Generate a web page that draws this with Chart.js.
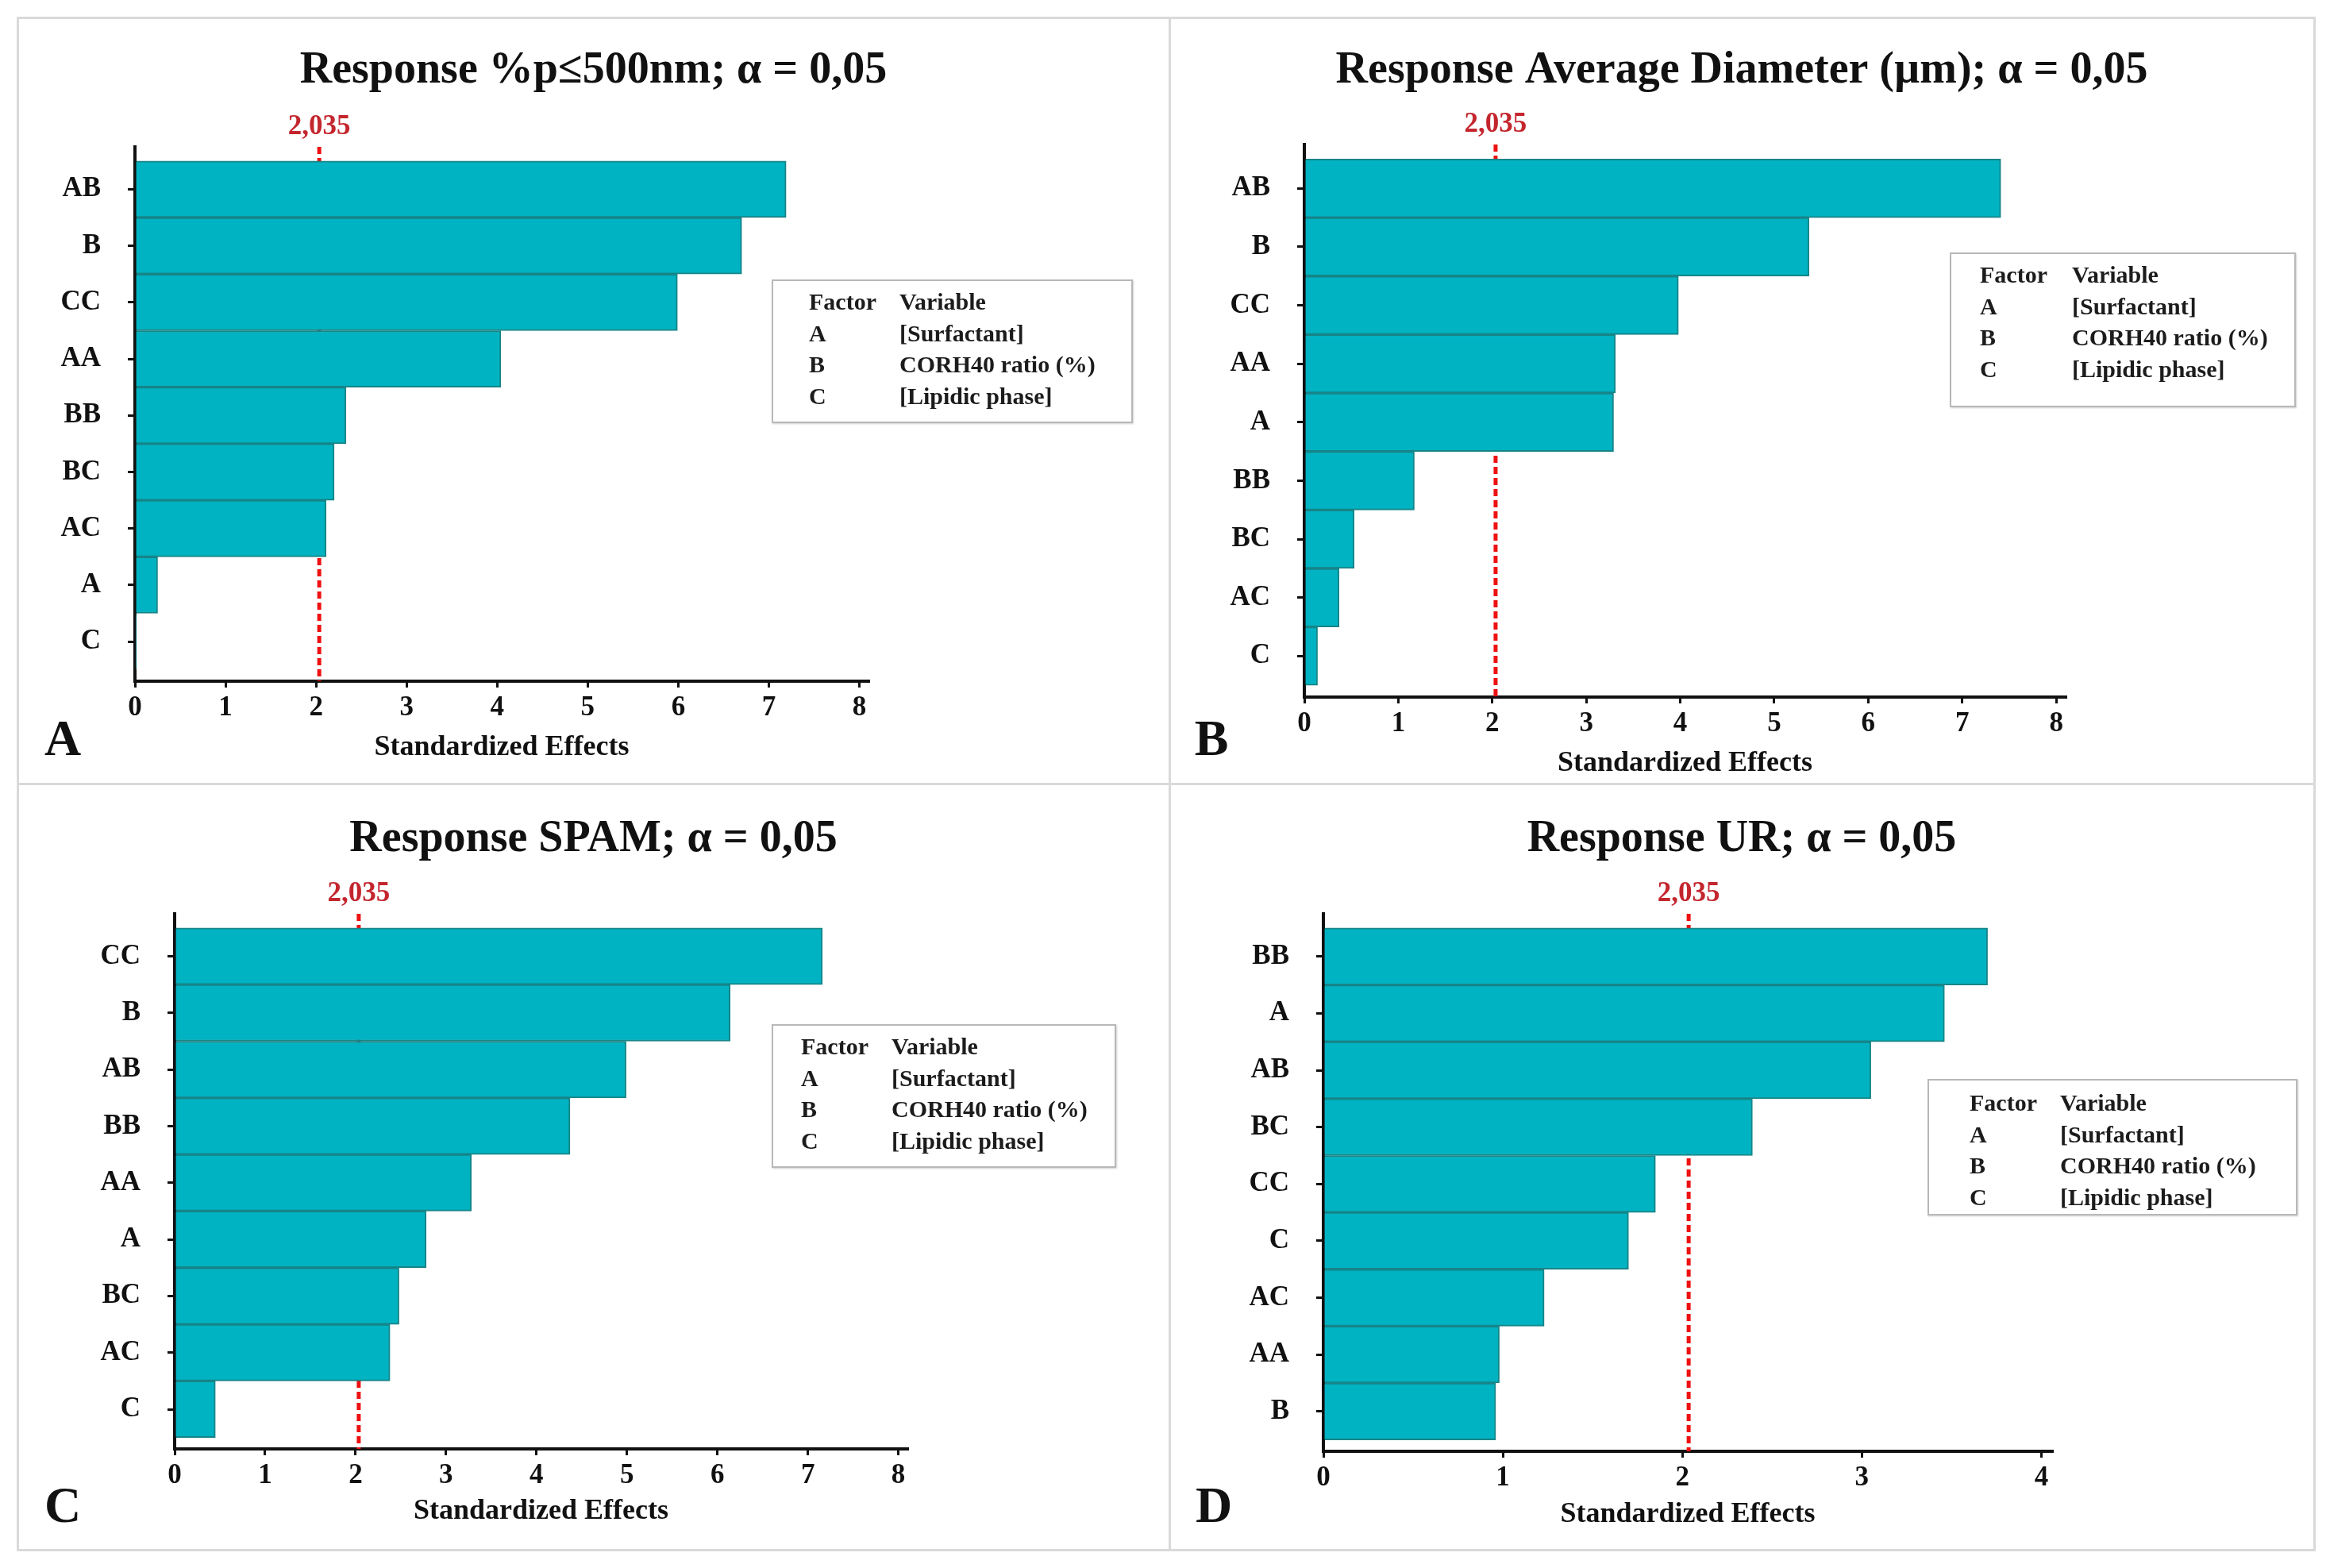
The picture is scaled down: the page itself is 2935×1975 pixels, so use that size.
<!DOCTYPE html>
<html>
<head>
<meta charset="utf-8">
<script src="https://cdn.jsdelivr.net/npm/chart.js@4.4.1/dist/chart.umd.min.js"></script>
<style>
html, body { margin: 0; padding: 0; background: #fff; }
body { width: 2935px; height: 1975px; position: relative; overflow: hidden; font-family: 'Liberation Serif', serif; }
.line { position: absolute; background: #d9d9d9; }
canvas { position: absolute; }
.legend { position: absolute; border: 2px solid #b8b8b8; background: #fff; box-sizing: border-box; font-weight: bold; font-size: 30px; color: #1c1c1c; box-shadow: 1px 1px 2px #d0d0d0; }
.legend span { position: absolute; white-space: nowrap; line-height: 40px; height: 40px; }
.letter { position: absolute; font-weight: bold; font-size: 64px; line-height: 64px; color: #111; transform: translate(-50%, -50%); }
</style>
</head>
<body>
<div class="line" style="left:21px;top:21px;width:2896px;height:3px"></div>
<div class="line" style="left:21px;top:1951px;width:2896px;height:3px"></div>
<div class="line" style="left:21px;top:21px;width:3px;height:1933px"></div>
<div class="line" style="left:2914px;top:21px;width:3px;height:1933px"></div>
<div class="line" style="left:1472px;top:21px;width:3px;height:1933px"></div>
<div class="line" style="left:21px;top:986px;width:2896px;height:3px"></div>
<script>
// valori (Pareto degli effetti standardizzati)
const labelsA = ['AB', 'B', 'CC', 'AA', 'BB', 'BC', 'AC', 'A', 'C'];
const valuesA = [7.19, 6.70, 5.99, 4.04, 2.33, 2.20, 2.11, 0.25, 0.01];
const labelsB = ['AB', 'B', 'CC', 'AA', 'A', 'BB', 'BC', 'AC', 'C'];
const valuesB = [7.41, 5.37, 3.98, 3.31, 3.29, 1.17, 0.53, 0.37, 0.14];
const labelsC = ['CC', 'B', 'AB', 'BB', 'AA', 'A', 'BC', 'AC', 'C'];
const valuesC = [7.16, 6.14, 4.99, 4.37, 3.28, 2.78, 2.48, 2.38, 0.45];
const labelsD = ['BB', 'A', 'AB', 'BC', 'CC', 'C', 'AC', 'AA', 'B'];
const valuesD = [3.70, 3.46, 3.05, 2.39, 1.85, 1.70, 1.23, 0.98, 0.96];

const ticks8 = [0, 1, 2, 3, 4, 5, 6, 7, 8];
const ticks4 = [0, 1, 2, 3, 4];

const titles = [
    'Response %p\u2264500nm; \u03b1 = 0,05',
    'Response Average Diameter (\u00b5m); \u03b1 = 0,05',
    'Response SPAM; \u03b1 = 0,05',
    'Response UR; \u03b1 = 0,05'
];
const letters = ['A', 'B', 'C', 'D'];
const xTitle = 'Standardized Effects';
const threshold = 2.035;
const thresholdLabel = '2,035';
const legendFactors = ['Factor', 'A', 'B', 'C'];
const legendVariables = ['Variable', '[Surfactant]', 'CORH40 ratio (%)', '[Lipidic phase]'];

const FONT = 'Liberation Serif';
const BAR = '#00b3c2';
const BAR_EDGE = '#168588';

// geometria dei pannelli (px assoluti / relativi alla cella)
const panels = [
    { labels: labelsA, values: valuesA, ticks: ticks8, xMax: 8.1, cell: [22, 22, 1451, 965], left: 148, top: 163, bottom: 836, padRight: 379, titleY: 68, axisTitleY: 920, letterPos: [79, 930], legend: [972, 352, 455, 181, 45, 159, 26] },
    { labels: labelsB, values: valuesB, ticks: ticks8, xMax: 8.1, cell: [1473, 22, 1442, 965], left: 170, top: 160, bottom: 856, padRight: 313, titleY: 68, axisTitleY: 940, letterPos: [1526, 930], legend: [2456, 318, 436, 195, 36, 152, 26] },
    { labels: labelsC, values: valuesC, ticks: ticks8, xMax: 8.1, cell: [22, 987, 1451, 966], left: 198, top: 164, bottom: 838, padRight: 330, titleY: 71, axisTitleY: 917, letterPos: [79, 1896], legend: [972, 1290, 434, 181, 35, 149, 26] },
    { labels: labelsD, values: valuesD, ticks: ticks4, xMax: 4.06, cell: [1473, 987, 1442, 966], left: 194, top: 164, bottom: 841, padRight: 330, titleY: 71, axisTitleY: 921, letterPos: [1529, 1896], legend: [2428, 1359, 466, 172, 51, 165, 28] }
];

const thresholdPlugin = {
    id: 'threshold',
    beforeDatasetsDraw(chart) {
        const { ctx, chartArea, scales } = chart;
        const px = scales.x.getPixelForValue(threshold);
        ctx.save();
        ctx.strokeStyle = '#ee1111';
        ctx.lineWidth = 5;
        ctx.setLineDash([9, 5]);
        ctx.beginPath();
        ctx.moveTo(px, chartArea.top);
        ctx.lineTo(px, chartArea.bottom);
        ctx.stroke();
        ctx.setLineDash([]);
        ctx.fillStyle = '#c4262e';
        ctx.font = 'bold 35px "' + FONT + '"';
        ctx.textAlign = 'center';
        ctx.textBaseline = 'middle';
        ctx.fillText(thresholdLabel, px, chartArea.top - 25);
        ctx.restore();
    }
};

function addLegend(p) {
    const [x, y, w, h, c1, c2, r0] = p.legend;
    const box = document.createElement('div');
    box.className = 'legend';
    Object.assign(box.style, { left: x + 'px', top: y + 'px', width: w + 'px', height: h + 'px' });
    legendFactors.forEach((f, i) => {
        const cy = r0 + i * 39.5 - 20;
        const a = document.createElement('span');
        a.textContent = f;
        Object.assign(a.style, { left: c1 + 'px', top: cy + 'px' });
        const b = document.createElement('span');
        b.textContent = legendVariables[i];
        Object.assign(b.style, { left: c2 + 'px', top: cy + 'px' });
        box.appendChild(a);
        box.appendChild(b);
    });
    document.body.appendChild(box);
}

function addLetter(p, i) {
    const d = document.createElement('div');
    d.className = 'letter';
    d.textContent = letters[i];
    d.style.left = p.letterPos[0] + 'px';
    d.style.top = p.letterPos[1] + 'px';
    document.body.appendChild(d);
}

function drawPanel(p, i) {
    const [cx, cy, W, H] = p.cell;
    const canvas = document.createElement('canvas');
    canvas.width = W;
    canvas.height = H;
    canvas.style.left = cx + 'px';
    canvas.style.top = cy + 'px';
    document.body.appendChild(canvas);

    const titleSize = 56;
    const titleTop = p.titleY - titleSize * 0.6;
    const titleBottom = p.top - titleSize * 1.2 - titleTop;
    const axisTitleSize = 36;
    const axisTitlePad = H - p.axisTitleY - axisTitleSize * 0.6;

    new Chart(canvas, {
        type: 'bar',
        data: {
            datasets: [{
                data: p.values.map((v, k) => ({ x: v, y: k })),
                backgroundColor: BAR,
                borderColor: BAR_EDGE,
                borderWidth: 2,
                barPercentage: 1,
                categoryPercentage: 1
            }]
        },
        options: {
            indexAxis: 'y',
            responsive: false,
            animation: false,
            devicePixelRatio: 1,
            layout: { padding: 0 },
            plugins: {
                legend: { display: false },
                tooltip: { enabled: false },
                title: {
                    display: true,
                    text: titles[i],
                    color: '#111',
                    font: { family: FONT, size: titleSize, weight: 'bold' },
                    padding: { top: titleTop, bottom: titleBottom }
                }
            },
            scales: {
                y: {
                    type: 'linear',
                    reverse: true,
                    offset: false,
                    min: -0.75,
                    max: 8.7,
                    z: 1,
                    afterFit: s => { s.width = p.left; },
                    afterBuildTicks: s => { s.ticks = p.labels.map((l, k) => ({ value: k })); },
                    ticks: { callback: v => p.labels[v], color: '#111', padding: 34, font: { family: FONT, size: 35, weight: 'bold' } },
                    grid: { offset: false, drawOnChartArea: false, drawTicks: true, tickLength: 9, color: '#111', lineWidth: 3 },
                    border: { display: true, color: '#111', width: 4 }
                },
                // asse vuoto a destra: lascia lo spazio della legenda senza spostare il titolo
                spacer: {
                    type: 'linear',
                    position: 'right',
                    display: true,
                    afterFit: s => { s.width = p.padRight; },
                    ticks: { display: false },
                    grid: { display: false },
                    border: { display: false }
                },
                x: {
                    type: 'linear',
                    min: 0,
                    max: p.xMax,
                    z: 1,
                    afterFit: s => { s.height = H - p.bottom; },
                    afterBuildTicks: s => { s.ticks = p.ticks.map(v => ({ value: v })); },
                    ticks: { color: '#111', padding: 5, font: { family: FONT, size: 35, weight: 'bold' } },
                    grid: { drawOnChartArea: false, drawTicks: true, tickLength: 8, color: '#111', lineWidth: 3 },
                    border: { display: true, color: '#111', width: 4 },
                    title: { display: true, text: xTitle, color: '#111', font: { family: FONT, size: axisTitleSize, weight: 'bold' }, padding: { top: 0, bottom: axisTitlePad } }
                }
            }
        },
        plugins: [thresholdPlugin]
    });

    addLegend(p);
    addLetter(p, i);
}

panels.forEach(drawPanel);
</script>
</body>
</html>
